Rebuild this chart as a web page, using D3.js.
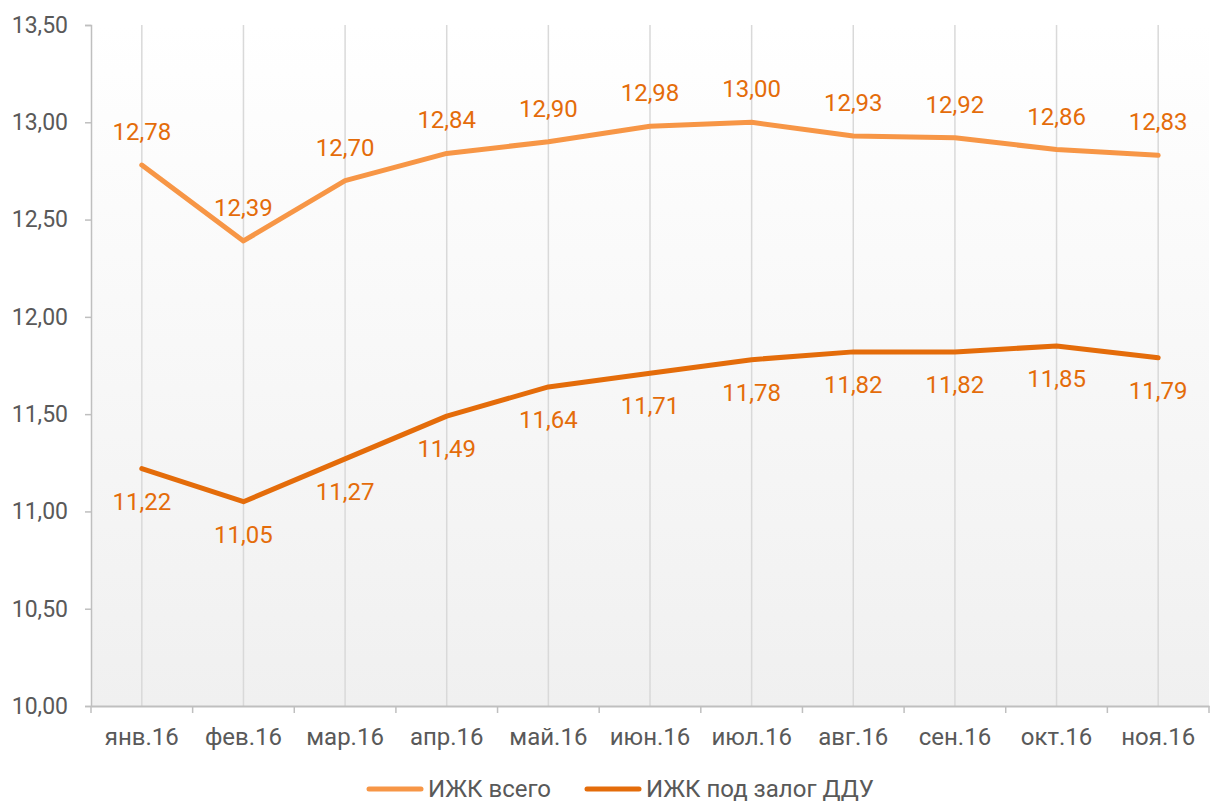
<!DOCTYPE html>
<html>
<head>
<meta charset="utf-8">
<script src="https://cdn.jsdelivr.net/npm/d3@7"></script>
<style>
  body { margin: 0; background: #fff; }
  text { font-family: Roboto, sans-serif; }
</style>
</head>
<body>
<div id="chart"></div>
<script>
const categories = ['янв.16', 'фев.16', 'мар.16', 'апр.16', 'май.16', 'июн.16', 'июл.16', 'авг.16', 'сен.16', 'окт.16', 'ноя.16'];
const totalValues = [12.78, 12.39, 12.70, 12.84, 12.90, 12.98, 13.00, 12.93, 12.92, 12.86, 12.83];
const dduValues = [11.22, 11.05, 11.27, 11.49, 11.64, 11.71, 11.78, 11.82, 11.82, 11.85, 11.79];
const yTicks = [10, 10.5, 11, 11.5, 12, 12.5, 13, 13.5];
const seriesNames = ['ИЖК всего', 'ИЖК под залог ДДУ'];

const width = 1211;
const height = 803;
const margin = { top: 25, right: 2, bottom: 97, left: 91 };

const fmt = v => d3.format('.2f')(v).replace('.', ',');

const svg = d3.select('#chart')
  .append('svg')
  .attr('width', width)
  .attr('height', height);

const grad = svg.append('defs').append('linearGradient')
  .attr('id', 'bg')
  .attr('x1', 0).attr('y1', 0).attr('x2', 0).attr('y2', 1);
grad.append('stop').attr('offset', '0%').attr('stop-color', '#ffffff');
grad.append('stop').attr('offset', '100%').attr('stop-color', '#f0f0f0');

const x = d3.scaleBand()
  .domain(categories)
  .range([margin.left, width - margin.right])
  .padding(0);

const y = d3.scaleLinear()
  .domain([10, 13.5])
  .range([height - margin.bottom, margin.top]);

const cx = d => x(d) + x.bandwidth() / 2;

// plot background
svg.append('rect')
  .attr('x', margin.left)
  .attr('y', margin.top)
  .attr('width', width - margin.right - margin.left)
  .attr('height', height - margin.bottom - margin.top)
  .attr('fill', 'url(#bg)');

// vertical gridlines at category centres
svg.append('g')
  .selectAll('line')
  .data(categories)
  .enter()
  .append('line')
  .attr('x1', cx)
  .attr('x2', cx)
  .attr('y1', y(13.5))
  .attr('y2', y(10))
  .attr('stroke', '#d9d9d9')
  .attr('stroke-width', 1.5);

// y axis
const yAxis = svg.append('g')
  .attr('transform', `translate(${margin.left},0)`)
  .call(d3.axisLeft(y).tickValues(yTicks).tickFormat(fmt).tickSize(6).tickPadding(17));
yAxis.select('.domain').attr('stroke', '#bfbfbf').attr('stroke-width', 1.5);
yAxis.selectAll('.tick line').attr('stroke', '#bfbfbf').attr('stroke-width', 1.5);
yAxis.selectAll('.tick text')
  .attr('fill', '#595959')
  .style('font-size', '23px');

// x axis, ticks on band boundaries
const xAxis = svg.append('g')
  .attr('transform', `translate(0,${height - margin.bottom})`)
  .call(d3.axisBottom(x).tickSize(0).tickPadding(22));
xAxis.select('.domain').attr('stroke', '#bfbfbf').attr('stroke-width', 2);
xAxis.selectAll('.tick text')
  .attr('fill', '#595959')
  .style('font-size', '24px');
xAxis.append('g')
  .selectAll('line')
  .data(categories.map(d => x(d)).concat([x.range()[1]]))
  .enter()
  .append('line')
  .attr('x1', d => d)
  .attr('x2', d => d)
  .attr('y1', 0)
  .attr('y2', 7)
  .attr('stroke', '#bfbfbf')
  .attr('stroke-width', 1.5);

const line = d3.line()
  .x((d, i) => cx(categories[i]))
  .y(d => y(d));

const series = [
  { name: seriesNames[0], values: totalValues, color: '#f79646', labelDy: -33 },
  { name: seriesNames[1], values: dduValues, color: '#e46c0a', labelDy: 33 }
];

series.forEach(s => {
  svg.append('path')
    .datum(s.values)
    .attr('d', line)
    .attr('fill', 'none')
    .attr('stroke', s.color)
    .attr('stroke-width', 5)
    .attr('stroke-linecap', 'round')
    .attr('stroke-linejoin', 'round');

  svg.append('g')
    .selectAll('text')
    .data(s.values)
    .enter()
    .append('text')
    .attr('x', (d, i) => cx(categories[i]))
    .attr('y', d => y(d) + s.labelDy)
    .attr('text-anchor', 'middle')
    .attr('dominant-baseline', 'central')
    .attr('fill', '#e46c0a')
    .style('font-size', '24px')
    .text(fmt);
});

// legend
const legend = svg.append('g').attr('transform', 'translate(0,789)');
const legendItems = [
  { x: 367, color: series[0].color, name: seriesNames[0] },
  { x: 585, color: series[1].color, name: seriesNames[1] }
];
legendItems.forEach(item => {
  legend.append('line')
    .attr('x1', item.x + 2)
    .attr('x2', item.x + 54)
    .attr('y1', 0)
    .attr('y2', 0)
    .attr('stroke', item.color)
    .attr('stroke-width', 5)
    .attr('stroke-linecap', 'round');
  legend.append('text')
    .attr('x', item.x + 61)
    .attr('y', 0)
    .attr('dominant-baseline', 'central')
    .attr('fill', '#595959')
    .style('font-size', '24px')
    .text(item.name);
});
</script>
</body>
</html>
